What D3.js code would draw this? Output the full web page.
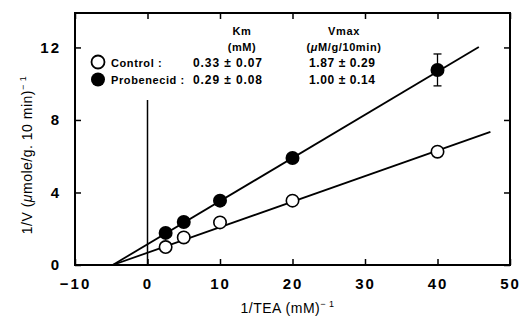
<!DOCTYPE html>
<html>
<head>
<meta charset="utf-8">
<script src="https://cdn.jsdelivr.net/npm/d3@7"></script>
<style>
  body { margin: 0; background: #fff; }
  text { fill: #000; }
</style>
</head>
<body>
<script>
//Width and height
var w = 523;
var h = 320;

//data
var teaInv = [2.5, 5, 10, 20, 40];
var control = [0.99, 1.52, 2.35, 3.55, 6.25];
var probenecid = [1.77, 2.37, 3.55, 5.9, 10.76];
var probenecidErr = [0, 0, 0, 0, 0.88];
//fitted lines (start, end) as drawn in the figure
var controlFit = [[-4.8, 0], [47.3, 7.34]];
var probenecidFit = [[-4.8, 0], [45.7, 12.03]];
var xTicks = [-10, 0, 10, 20, 30, 40, 50];
var yTicks = [0, 4, 8, 12];

//frame edges
var plotL = 75, plotR = 510, plotT = 13, plotB = 265;

var x = d3.scaleLinear().domain([-10, 50]).range([plotL, plotR]);
var y = d3.scaleLinear().domain([0, 13.9]).range([plotB, plotT]);

var svg = d3.select("body")
            .append("svg")
            .attr("width", w)
            .attr("height", h)
            .style("font-family", "'Liberation Sans', Arial, sans-serif");

//axes, ticks pointing inward, labels only bottom/left
var tickFont = function(g) {
    g.selectAll("text")
     .style("font-size", "15px")
     .style("font-weight", "bold")
     .style("letter-spacing", "2px")
     .attr("fill", "#000");
    g.selectAll("line").attr("stroke", "#000").attr("stroke-width", 1.5);
    g.select(".domain").remove();
};

svg.append("g")
   .attr("transform", "translate(0," + plotB + ")")
   .call(d3.axisBottom(x).tickValues(xTicks).tickSizeInner(-6).tickSizeOuter(0).tickPadding(13)
           .tickFormat(function(d) { return d < 0 ? "\u2212" + Math.abs(d) : d; }))
   .call(tickFont);

svg.append("g")
   .attr("transform", "translate(0," + plotT + ")")
   .call(d3.axisTop(x).tickValues(xTicks).tickSizeInner(-6).tickSizeOuter(0).tickFormat(""))
   .call(tickFont);

svg.append("g")
   .attr("transform", "translate(" + plotL + ",0)")
   .call(d3.axisLeft(y).tickValues(yTicks).tickSizeInner(-6).tickSizeOuter(0).tickPadding(14))
   .call(tickFont);

svg.append("g")
   .attr("transform", "translate(" + plotR + ",0)")
   .call(d3.axisRight(y).tickValues(yTicks).tickSizeInner(-6).tickSizeOuter(0).tickFormat(""))
   .call(tickFont);

//frame
svg.append("rect")
   .attr("x", plotL).attr("y", plotT)
   .attr("width", plotR - plotL).attr("height", plotB - plotT)
   .attr("fill", "none").attr("stroke", "#000").attr("stroke-width", 2);

//vertical line at x = 0
svg.append("line")
   .attr("x1", x(0)).attr("x2", x(0))
   .attr("y1", y(9.1)).attr("y2", plotB)
   .attr("stroke", "#000").attr("stroke-width", 1.5);

//fit lines
var line = d3.line().x(function(d) { return x(d[0]); }).y(function(d) { return y(d[1]); });
[controlFit, probenecidFit].forEach(function(f) {
    svg.append("path")
       .attr("d", line(f))
       .attr("fill", "none").attr("stroke", "#000").attr("stroke-width", 1.8);
});

//error bars
teaInv.forEach(function(t, i) {
    var e = probenecidErr[i];
    if (!e) return;
    var g = svg.append("g").attr("stroke", "#000").attr("stroke-width", 1.3);
    g.append("line").attr("x1", x(t)).attr("x2", x(t))
     .attr("y1", y(probenecid[i] + e)).attr("y2", y(probenecid[i] - e));
    [probenecid[i] + e, probenecid[i] - e].forEach(function(v) {
        g.append("line").attr("x1", x(t) - 4).attr("x2", x(t) + 4)
         .attr("y1", y(v)).attr("y2", y(v));
    });
});

//points
svg.selectAll("circle.ctl")
   .data(teaInv)
   .enter()
   .append("circle")
   .attr("class", "ctl")
   .attr("cx", function(d) { return x(d); })
   .attr("cy", function(d, i) { return y(control[i]); })
   .attr("r", 6.2)
   .attr("fill", "#fff").attr("stroke", "#000").attr("stroke-width", 1.6);

svg.selectAll("circle.prb")
   .data(teaInv)
   .enter()
   .append("circle")
   .attr("class", "prb")
   .attr("cx", function(d) { return x(d); })
   .attr("cy", function(d, i) { return y(probenecid[i]); })
   .attr("r", 7)
   .attr("fill", "#000");

//legend / table
var leg = svg.append("g")
             .style("font-size", "11px")
             .style("font-weight", "bold")
             .style("letter-spacing", "0.6px");

leg.append("text").attr("x", 242).attr("y", 35).attr("text-anchor", "middle").text("Km");
leg.append("text").attr("x", 242).attr("y", 51).attr("text-anchor", "middle").text("(mM)");
leg.append("text").attr("x", 344).attr("y", 35).attr("text-anchor", "middle").text("Vmax");
leg.append("text").attr("x", 344).attr("y", 51).attr("text-anchor", "middle")
   .html("(<tspan font-style='italic'>\u03bc</tspan>M/g/10min)");

leg.append("circle").attr("cx", 98).attr("cy", 62).attr("r", 6.5)
   .attr("fill", "#fff").attr("stroke", "#000").attr("stroke-width", 1.8);
leg.append("circle").attr("cx", 98).attr("cy", 79.5).attr("r", 7).attr("fill", "#000");

leg.append("text").attr("x", 111).attr("y", 67).text("Control :");
leg.append("text").attr("x", 111).attr("y", 84).text("Probenecid :");
leg.append("text").attr("x", 193).attr("y", 67).style("font-size", "12px").style("letter-spacing", "0.9px").text("0.33 \u00b1 0.07");
leg.append("text").attr("x", 193).attr("y", 84).style("font-size", "12px").style("letter-spacing", "0.9px").text("0.29 \u00b1 0.08");
leg.append("text").attr("x", 309).attr("y", 67).style("font-size", "12px").style("letter-spacing", "0.6px").text("1.87 \u00b1 0.29");
leg.append("text").attr("x", 309).attr("y", 84).style("font-size", "12px").style("letter-spacing", "0.6px").text("1.00 \u00b1 0.14");

//axis titles
svg.append("text")
   .attr("x", (plotL + plotR) / 2 - 5).attr("y", 313)
   .attr("text-anchor", "middle")
   .style("font-size", "14px")
   .style("letter-spacing", "0.5px")
   .html("1/TEA (mM)<tspan dy='-6' font-size='9px'>\u2212 1</tspan>");

svg.append("text")
   .attr("transform", "translate(32," + 155 + ") rotate(-90)")
   .attr("text-anchor", "middle")
   .style("font-size", "14px")
   .style("letter-spacing", "0.5px")
   .html("1/V (<tspan font-style='italic'>\u03bc</tspan>mole/g. 10 min)<tspan dy='-6' font-size='9px'>\u2212 1</tspan>");
</script>
</body>
</html>
